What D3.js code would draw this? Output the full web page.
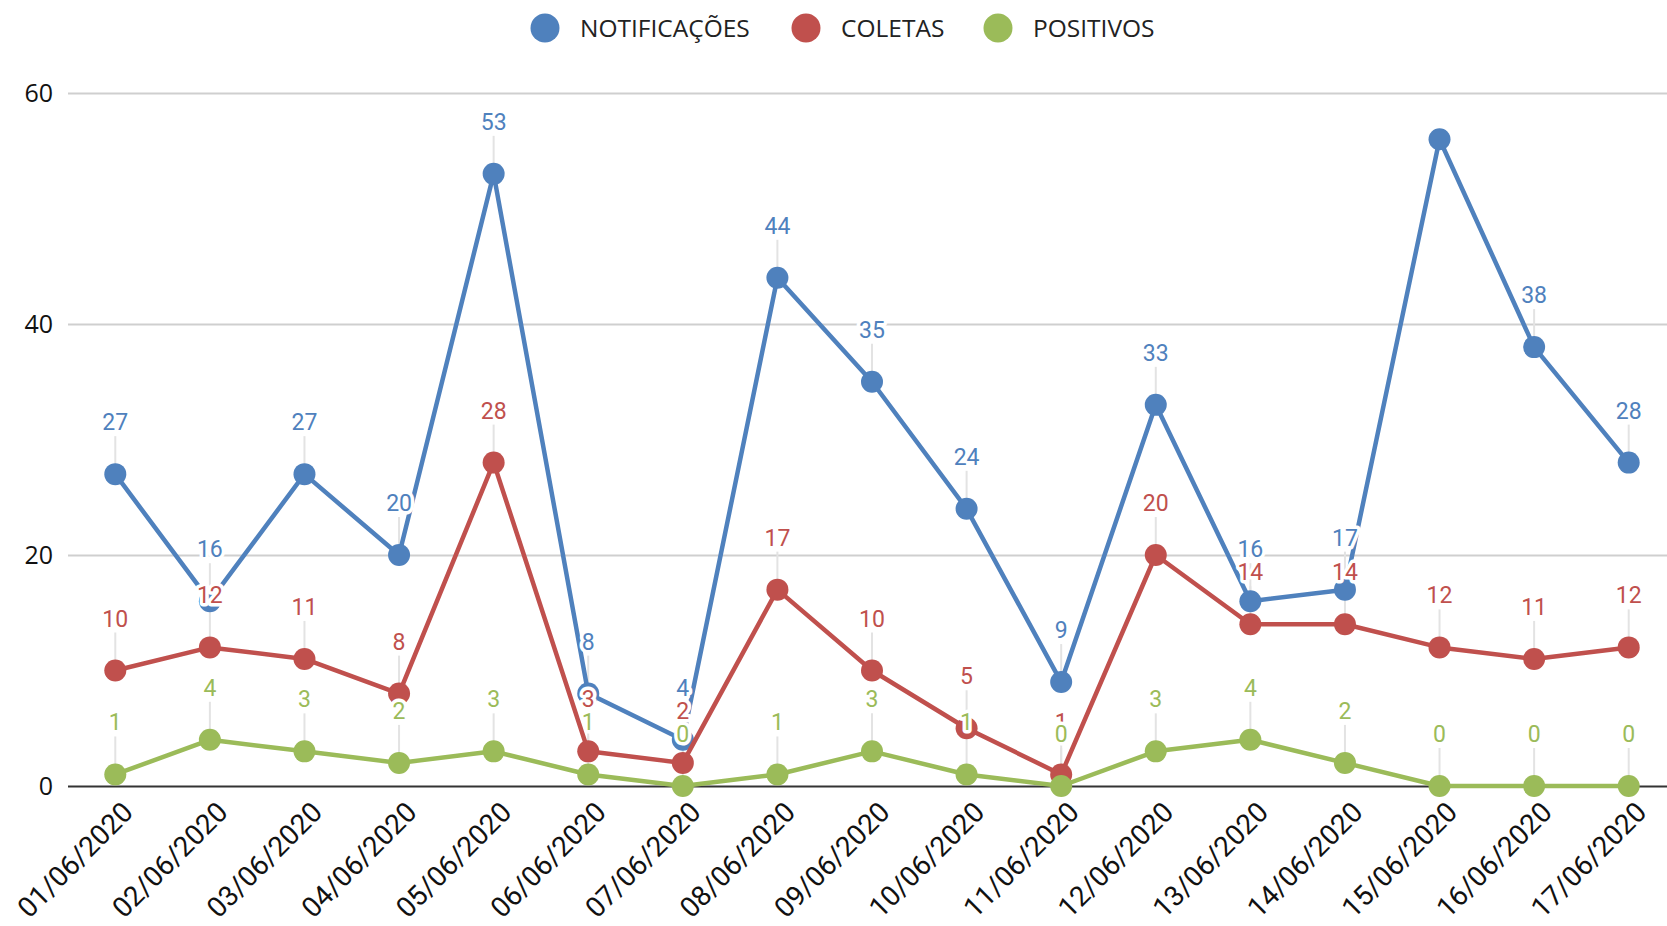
<!DOCTYPE html>
<html>
<head>
<meta charset="utf-8">
<script src="https://cdn.jsdelivr.net/npm/d3@7"></script>
<style>
  html, body { margin: 0; padding: 0; background: #fff; }
  svg { display: block; }
</style>
</head>
<body>
<svg id="chart" width="1667" height="926"></svg>
<script>
// chart data
const dates = ['01/06/2020', '02/06/2020', '03/06/2020', '04/06/2020', '05/06/2020', '06/06/2020',
  '07/06/2020', '08/06/2020', '09/06/2020', '10/06/2020', '11/06/2020', '12/06/2020',
  '13/06/2020', '14/06/2020', '15/06/2020', '16/06/2020', '17/06/2020'];
const notificacoes = [27, 16, 27, 20, 53, 8, 4, 44, 35, 24, 9, 33, 16, 17, 56, 38, 28];
const coletas = [10, 12, 11, 8, 28, 3, 2, 17, 10, 5, 1, 20, 14, 14, 12, 11, 12];
const positivos = [1, 4, 3, 2, 3, 1, 0, 1, 3, 1, 0, 3, 4, 2, 0, 0, 0];
const seriesNames = ['NOTIFICAÇÕES', 'COLETAS', 'POSITIVOS'];
const yTicks = [0, 20, 40, 60];

const colors = ['#4f81bd', '#c0504d', '#9bbb59'];
const series = [notificacoes, coletas, positivos].map((values, i) => ({
  name: seriesNames[i],
  color: colors[i],
  values: values
}));

const svg = d3.select('#chart');
const plotLeft = 68, plotRight = 1676, plotTop = 93, plotBottom = 786;

const x = d3.scalePoint().domain(dates).range([plotLeft, plotRight]).padding(0.5);
const y = d3.scaleLinear().domain([0, 60]).range([plotBottom, plotTop]);

// gridlines + y labels
const yAxis = svg.append('g')
  .attr('transform', 'translate(' + plotLeft + ',0)')
  .call(d3.axisLeft(y).tickValues(yTicks).tickSize(-(plotRight - plotLeft)).tickPadding(15));
yAxis.select('.domain').remove();
yAxis.selectAll('.tick line')
  .attr('stroke', d => d === 0 ? '#333' : '#cfcfcf')
  .attr('stroke-width', 2);
yAxis.selectAll('.tick text')
  .attr('font-family', 'Open Sans, sans-serif')
  .attr('font-size', 25)
  .attr('fill', '#111');

// x labels, rotated
const xAxis = svg.append('g')
  .attr('transform', 'translate(0,' + plotBottom + ')')
  .call(d3.axisBottom(x).tickSize(0).tickPadding(0));
xAxis.select('.domain').remove();
xAxis.selectAll('.tick text')
  .attr('font-family', 'Roboto, sans-serif')
  .attr('font-size', 28)
  .attr('fill', '#111')
  .attr('text-anchor', 'end')
  .attr('dy', '0.35em')
  .attr('transform', 'translate(12,21) rotate(-45)');

const labelOffset = 44;
const visible = v => y(v) - labelOffset - 17 >= plotTop;

// leader lines from label to point
series.forEach(s => {
  svg.append('g').selectAll('line')
    .data(s.values.map((v, i) => ({ v: v, d: dates[i] })).filter(p => visible(p.v)))
    .enter()
    .append('line')
    .attr('x1', p => x(p.d))
    .attr('x2', p => x(p.d))
    .attr('y1', p => y(p.v) - labelOffset + 6)
    .attr('y2', p => y(p.v))
    .attr('stroke', '#e3e3e3')
    .attr('stroke-width', 2);
});

const line = d3.line()
  .x((v, i) => x(dates[i]))
  .y(v => y(v));

series.forEach(s => {
  svg.append('path')
    .attr('d', line(s.values))
    .attr('fill', 'none')
    .attr('stroke', s.color)
    .attr('stroke-width', 4.5)
    .attr('stroke-linejoin', 'round');
  svg.append('g').selectAll('circle')
    .data(s.values)
    .enter()
    .append('circle')
    .attr('cx', (v, i) => x(dates[i]))
    .attr('cy', v => y(v))
    .attr('r', 11)
    .attr('fill', s.color);
});

// value labels with white halo
series.forEach(s => {
  svg.append('g').selectAll('text')
    .data(s.values.map((v, i) => ({ v: v, d: dates[i] })).filter(p => visible(p.v)))
    .enter()
    .append('text')
    .attr('x', p => x(p.d))
    .attr('y', p => y(p.v) - labelOffset)
    .attr('text-anchor', 'middle')
    .attr('font-family', 'Roboto, sans-serif')
    .attr('font-size', 23)
    .attr('fill', s.color)
    .attr('stroke', '#fff')
    .attr('stroke-width', 7)
    .attr('stroke-linejoin', 'round')
    .attr('paint-order', 'stroke')
    .text(p => p.v);
});

// legend
const legendX = [545, 806, 998];
const legend = svg.append('g');
series.forEach((s, i) => {
  legend.append('circle')
    .attr('cx', legendX[i])
    .attr('cy', 28)
    .attr('r', 14.5)
    .attr('fill', s.color);
  legend.append('text')
    .attr('x', legendX[i] + 35)
    .attr('y', 37)
    .attr('font-family', 'Open Sans, sans-serif')
    .attr('font-size', 24.5)
    .attr('fill', '#222')
    .text(s.name);
});
</script>
</body>
</html>
